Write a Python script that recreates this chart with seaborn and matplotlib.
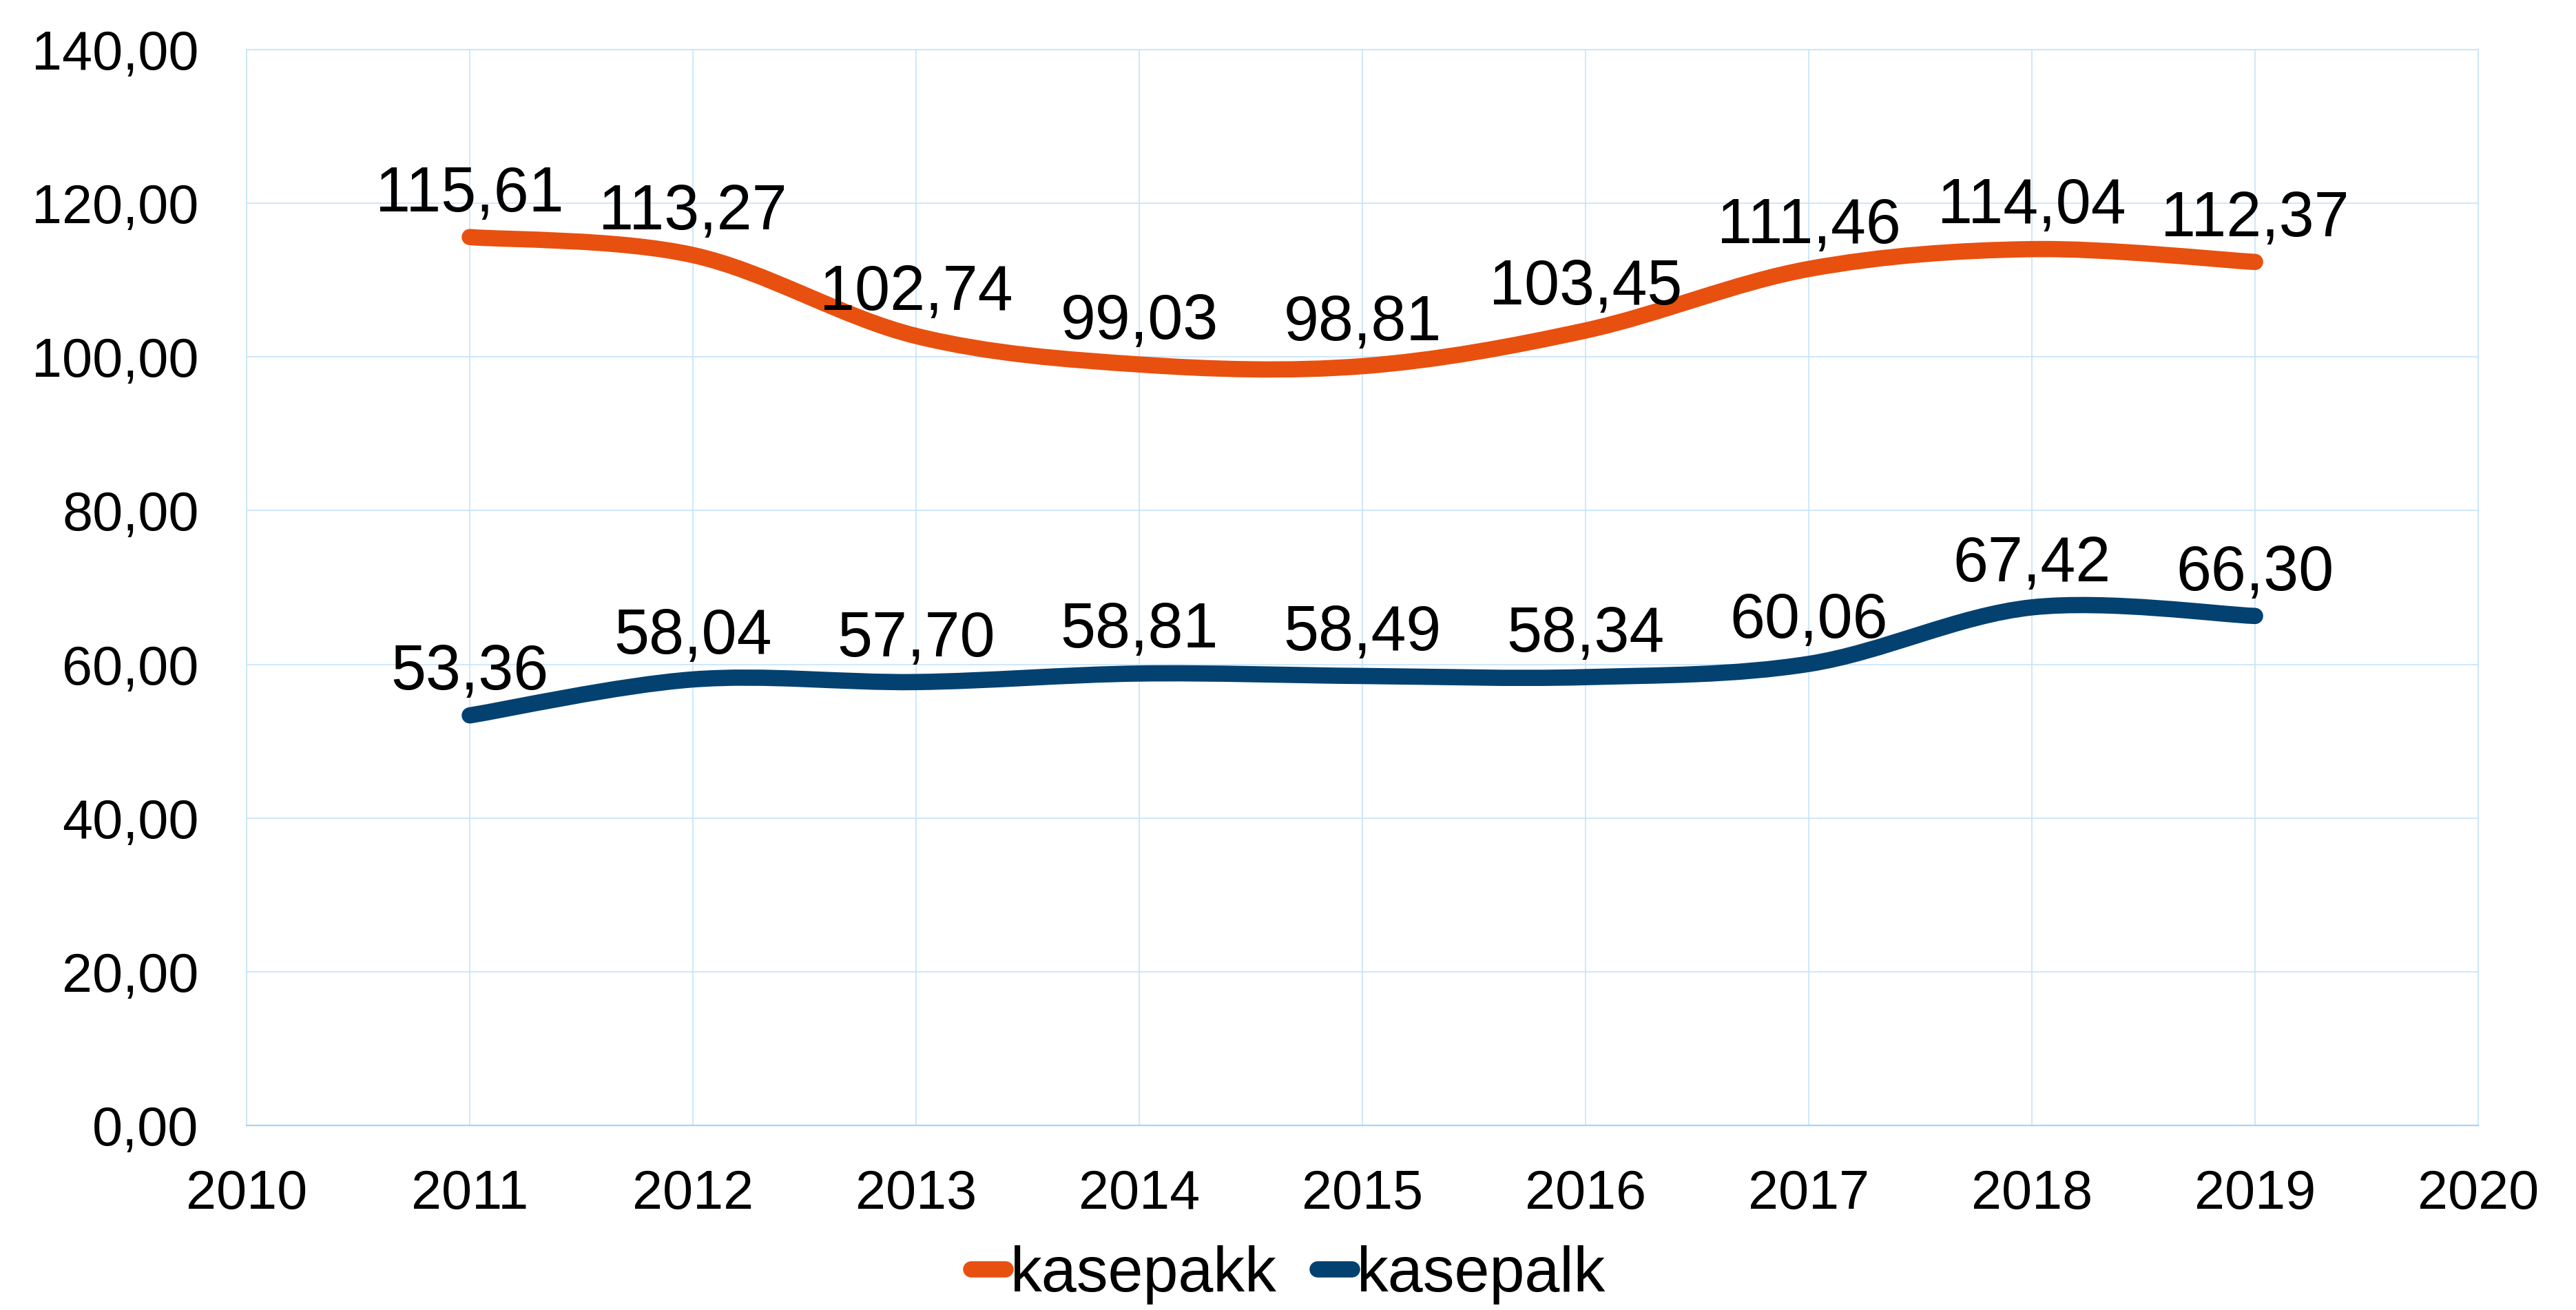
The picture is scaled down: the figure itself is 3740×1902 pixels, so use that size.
import seaborn as sns
import matplotlib.pyplot as plt
import pandas as pd
from matplotlib.path import Path
from matplotlib.patches import PathPatch
from matplotlib.lines import Line2D
from matplotlib.ticker import FuncFormatter, MultipleLocator

years = [2011, 2012, 2013, 2014, 2015, 2016, 2017, 2018, 2019]
kasepakk = [115.61, 113.27, 102.74, 99.03, 98.81, 103.45, 111.46, 114.04, 112.37]
kasepalk = [53.36, 58.04, 57.70, 58.81, 58.49, 58.34, 60.06, 67.42, 66.30]
series_names = ["kasepakk", "kasepalk"]
colours = {"kasepakk": "#E8500F", "kasepalk": "#034170"}

df = pd.DataFrame({
    "year": years + years,
    "value": kasepakk + kasepalk,
    "series": ["kasepakk"] * len(years) + ["kasepalk"] * len(years),
})

sns.set_style("white")
plt.rcParams["font.family"] = ["Liberation Sans", "DejaVu Sans"]
plt.rcParams["text.color"] = "black"

grid_col = "#C6E4FA"
lw = 17


# excel style smoothed line: bezier through the points
def smooth_path(x, y):
    pts = list(zip(x, y))
    n = len(pts)
    verts = [pts[0]]
    codes = [Path.MOVETO]
    for i in range(n - 1):
        p0 = pts[i - 1] if i > 0 else pts[i]
        p1 = pts[i]
        p2 = pts[i + 1]
        p3 = pts[i + 2] if i + 2 < n else pts[i + 1]
        c1 = (p1[0] + (p2[0] - p0[0]) / 6, p1[1] + (p2[1] - p0[1]) / 6)
        c2 = (p2[0] - (p3[0] - p1[0]) / 6, p2[1] - (p3[1] - p1[1]) / 6)
        verts += [c1, c2, p2]
        codes += [Path.CURVE4] * 3
    return Path(verts, codes)


fig = plt.figure(figsize=(37.41, 19.02), dpi=100)
ax = fig.add_axes([0.0957, 0.1409, 0.8661, 0.8212])

sns.lineplot(data=df, x="year", y="value", hue="series", hue_order=series_names,
             palette=colours, linewidth=lw, legend=False, ax=ax)

# swap the straight segments for smoothed curves
for line, name in zip(list(ax.lines), series_names):
    xd, yd = line.get_xdata(), line.get_ydata()
    patch = PathPatch(smooth_path(xd, yd), fill=False, edgecolor=colours[name],
                      lw=lw, capstyle="round", joinstyle="round", zorder=3)
    ax.add_patch(patch)
    line.remove()

# data labels
for vals in [kasepakk, kasepalk]:
    for x, v in zip(years, vals):
        ax.annotate(f"{v:.2f}".replace(".", ","), (x, v), xytext=(0, 27),
                    textcoords="offset points", ha="center", va="baseline",
                    fontsize=66, color="black", zorder=4)

ax.set_xlim(2010, 2020)
ax.set_ylim(0, 140)
ax.xaxis.set_major_locator(MultipleLocator(1))
ax.yaxis.set_major_locator(MultipleLocator(20))
ax.xaxis.set_major_formatter(FuncFormatter(lambda v, p: f"{int(round(v))}"))
ax.yaxis.set_major_formatter(FuncFormatter(lambda v, p: f"{v:.2f}".replace(".", ",")))
ax.set_xlabel("")
ax.set_ylabel("")

ax.grid(True, color=grid_col, lw=1.2, zorder=0)
ax.set_axisbelow(True)
for s in ["top", "right", "left"]:
    ax.spines[s].set_color(grid_col)
    ax.spines[s].set_linewidth(1.2)
ax.spines["bottom"].set_color("#A8D4F4")
ax.spines["bottom"].set_linewidth(1.6)

ax.tick_params(axis="both", length=0, labelsize=57, labelcolor="black")
ax.tick_params(axis="x", pad=45)
ax.tick_params(axis="y", pad=50)

handles = [Line2D([0], [0], color=colours[n], lw=lw, solid_capstyle="round")
           for n in series_names]
fig.legend(handles, series_names, loc="center", bbox_to_anchor=(0.5, 0.027),
           ncol=2, frameon=False, fontsize=66, handlelength=0.55,
           handletextpad=0.07, columnspacing=0.65, labelcolor="black")

fig.savefig("out.png", dpi=100)
